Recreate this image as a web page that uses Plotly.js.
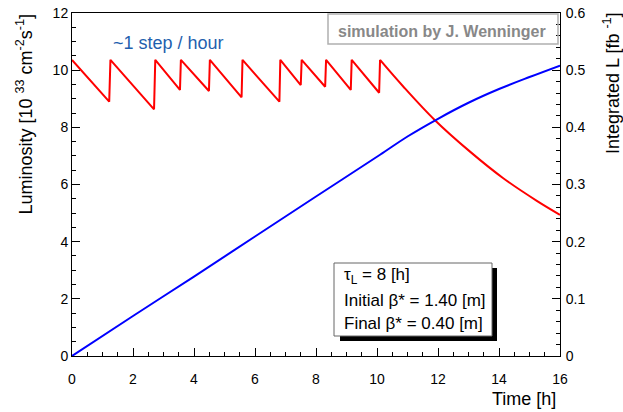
<!DOCTYPE html>
<html>
<head>
<meta charset="utf-8">
<script src="https://cdn.plot.ly/plotly-3.0.1.min.js"></script>
<style>html,body{margin:0;padding:0;background:#fff;}#chart{width:623px;height:412px;}</style>
</head>
<body>
<div id="chart"></div>
<script>
// Instantaneous luminosity (left axis, 10^33 cm^-2 s^-1): leveling steps
const timeLevel = [0, 1.22, 1.26, 2.69, 2.73, 3.54, 3.57, 4.49, 4.52, 5.56, 5.59, 6.80, 6.83, 7.50, 7.53, 8.30, 8.33, 9.14, 9.17, 10.07, 10.10];
const lumiLevel = [10.36, 8.90, 10.36, 8.63, 10.36, 9.31, 10.36, 9.27, 10.36, 9.05, 10.36, 8.90, 10.36, 9.48, 10.36, 9.42, 10.36, 9.31, 10.36, 9.21, 10.36];
// Instantaneous luminosity after leveling ends (free decay)
const timeDecay = [10.10, 10.86, 11.9, 13.05, 14.14, 15.24, 16];
const lumiDecay = [10.36, 9.43, 8.25, 7.15, 6.22, 5.43, 4.94];
// Integrated luminosity (right axis, fb^-1)
const timeInt = [0, 2, 4, 6, 8, 10.1, 11, 12, 13, 14, 15, 16];
const intLumi = [0, 0.070, 0.139, 0.209, 0.279, 0.352, 0.384, 0.415, 0.443, 0.467, 0.488, 0.508];

const F = "Liberation Sans, Arial, Helvetica, sans-serif";
const L = 72, R = 560, T = 13, B = 356;
const px = v => (v - L) / (R - L);
const py = v => (B - v) / (B - T);

const traces = [
  {x: timeLevel, y: lumiLevel, type: 'scatter', mode: 'lines', line: {color: '#ff0000', width: 2}, xaxis: 'x', yaxis: 'y', hoverinfo: 'skip'},
  {x: timeDecay, y: lumiDecay, type: 'scatter', mode: 'lines', line: {color: '#ff0000', width: 2, shape: 'spline', smoothing: 1}, xaxis: 'x', yaxis: 'y', hoverinfo: 'skip'},
  {x: timeInt, y: intLumi, type: 'scatter', mode: 'lines', line: {color: '#0000ff', width: 2, shape: 'spline', smoothing: 1}, xaxis: 'x', yaxis: 'y2', hoverinfo: 'skip'}
];

const axisCommon = {
  showgrid: false, zeroline: false, showline: true, linecolor: '#000', linewidth: 1,
  ticks: 'inside', ticklen: 8, tickcolor: '#000', tickwidth: 1,
  tickfont: {family: F, size: 14, color: '#000'}
};

const layout = {
  width: 623, height: 412,
  margin: {l: L, r: 623 - R, t: T, b: 412 - B, pad: 0},
  paper_bgcolor: '#fff', plot_bgcolor: '#fff',
  showlegend: false,
  font: {family: F, color: '#000'},
  xaxis: Object.assign({}, axisCommon, {range: [0, 16], dtick: 2, tick0: 0, mirror: true, ticklabelstandoff: 10,
    minor: {dtick: 0.5, ticks: 'inside', ticklen: 4, tickcolor: '#000', showgrid: false}}),
  yaxis: Object.assign({}, axisCommon, {range: [0, 12], dtick: 2, tick0: 0, ticklabelstandoff: 0,
    minor: {dtick: 0.5, ticks: 'inside', ticklen: 4, tickcolor: '#000', showgrid: false}}),
  yaxis2: Object.assign({}, axisCommon, {range: [0, 0.6], dtick: 0.1, tick0: 0, overlaying: 'y', side: 'right', ticklabelstandoff: 2,
    minor: {dtick: 0.02, ticks: 'inside', ticklen: 4, tickcolor: '#000', showgrid: false}}),
  shapes: [
    {type: 'rect', xref: 'paper', yref: 'paper', x0: px(328), x1: px(558), y0: py(44), y1: py(14), line: {color: '#b0b0b0', width: 1.5}, fillcolor: 'rgba(255,255,255,0)'},
    {type: 'rect', xref: 'paper', yref: 'paper', x0: px(340), x1: px(497), y0: py(341), y1: py(268), line: {width: 0}, fillcolor: '#000'},
    {type: 'rect', xref: 'paper', yref: 'paper', x0: px(334), x1: px(492), y0: py(336), y1: py(263), line: {color: '#666', width: 1}, fillcolor: '#fff'}
  ],
  annotations: [
    {text: 'simulation by J. Wenninger', xref: 'paper', yref: 'paper', x: px(442), y: py(31), xanchor: 'center', yanchor: 'middle', showarrow: false,
      font: {family: F, size: 16, color: '#888', weight: 'bold'}},
    {text: '~1 step / hour', xref: 'paper', yref: 'paper', x: px(111), y: py(43), xanchor: 'left', yanchor: 'middle', showarrow: false,
      font: {family: F, size: 18, color: '#1f5fae'}},
    {text: 'τ<sub>L</sub> = 8 [h]', xref: 'paper', yref: 'paper', x: px(342), y: py(276), xanchor: 'left', yanchor: 'middle', showarrow: false,
      font: {family: F, size: 17, color: '#000'}},
    {text: 'Initial β* = 1.40 [m]', xref: 'paper', yref: 'paper', x: px(342), y: py(300), xanchor: 'left', yanchor: 'middle', showarrow: false,
      font: {family: F, size: 17, color: '#000'}},
    {text: 'Final β* = 0.40 [m]', xref: 'paper', yref: 'paper', x: px(342), y: py(323), xanchor: 'left', yanchor: 'middle', showarrow: false,
      font: {family: F, size: 17, color: '#000'}},
    {text: 'Time [h]', xref: 'paper', yref: 'paper', x: px(558), y: py(399), xanchor: 'right', yanchor: 'middle', showarrow: false,
      font: {family: F, size: 18, color: '#000'}},
    {text: 'Luminosity [10 <sup>33</sup> cm<sup>-2</sup>s<sup>-1</sup>]', xref: 'paper', yref: 'paper', x: px(25), y: py(12), xanchor: 'center', yanchor: 'top', textangle: -90, showarrow: false,
      font: {family: F, size: 18, color: '#000'}},
    {text: 'Integrated L [fb <sup>-1</sup>]', xref: 'paper', yref: 'paper', x: px(612), y: py(10), xanchor: 'center', yanchor: 'top', textangle: -90, showarrow: false,
      font: {family: F, size: 18, color: '#000'}}
  ]
};

Plotly.newPlot('chart', traces, layout, {staticPlot: true, displayModeBar: false});
</script>
</body>
</html>
